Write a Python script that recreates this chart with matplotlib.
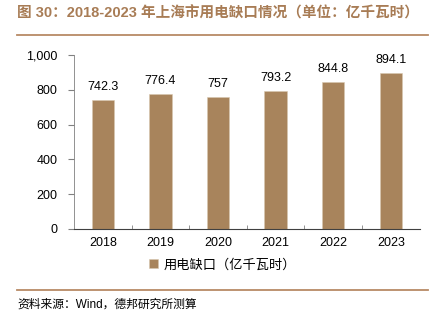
import matplotlib
matplotlib.use("Agg")
import matplotlib.pyplot as plt
from matplotlib.lines import Line2D

plt.rcParams['font.family'] = ['Liberation Sans', 'Noto Sans CJK SC', 'DejaVu Sans']

years = ["2018", "2019", "2020", "2021", "2022", "2023"]
gap = [742.3, 776.4, 757, 793.2, 844.8, 894.1]
gap_labels = ["742.3", "776.4", "757", "793.2", "844.8", "894.1"]

bar_color = "#a8845c"
brown = "#a87c55"

fig = plt.figure(figsize=(4.35, 3.27), dpi=100)
ax = fig.add_axes([0.170, 0.2997, 0.7946, 0.5321])

x = list(range(len(years)))
ax.bar(x, gap, width=0.39, color=bar_color, edgecolor="#d8c8b0", linewidth=0.4,
       label="用电缺口（亿千瓦时）")
for xi, v, s in zip(x, gap, gap_labels):
    ax.text(xi, v + 40, s, ha="center", va="bottom", fontsize=9, color="black")

ax.set_xlim(-0.5, len(years) - 0.5)
ax.set_ylim(0, 1000)
ax.set_yticks([0, 200, 400, 600, 800, 1000])
ax.set_yticklabels(["0", "200", "400", "600", "800", "1,000"], fontsize=9)
ax.set_xticks(x)
ax.set_xticklabels(years, fontsize=9)
ax.tick_params(axis="x", length=0, pad=6)
ax.tick_params(axis="y", length=4, direction="out", color="#808080", pad=8)
ax.set_xticks([i + 0.5 for i in x[:-1]], minor=True)
ax.tick_params(axis="x", which="minor", length=3, direction="in", color="#808080")
for sp in ["top", "right"]:
    ax.spines[sp].set_visible(False)
ax.spines["left"].set_color("#808080")
ax.spines["bottom"].set_color("#404040")
ax.spines["left"].set_linewidth(0.6)
ax.spines["bottom"].set_linewidth(0.8)

ax.legend(loc="upper center", bbox_to_anchor=(0.43, -0.1), frameon=False,
          handlelength=0.7, handleheight=0.7, handletextpad=0.4,
          prop={'family': ['Noto Sans CJK SC'], 'size': 9.5})

fig.text(17 / 435, 1 - 13 / 327, "图 30：2018-2023 年上海市用电缺口情况（单位：亿千瓦时）",
         fontsize=10.5, fontweight="bold", color=brown, ha="left", va="center",
         family=['Liberation Sans', 'Noto Sans CJK SC'])
fig.add_artist(Line2D([17 / 435, 428 / 435], [1 - 35 / 327, 1 - 35 / 327],
                      color="#b88a66", linewidth=1.3))
fig.add_artist(Line2D([17 / 435, 428 / 435], [1 - 290 / 327, 1 - 290 / 327],
                      color="#b88a66", linewidth=1.3))
fig.text(17 / 435, 1 - 305 / 327, "资料来源：Wind，德邦研究所测算", fontsize=8.5,
         color="black", ha="left", va="center",
         family=['Liberation Sans', 'Noto Sans CJK SC'])

fig.savefig("out.png", dpi=100)
